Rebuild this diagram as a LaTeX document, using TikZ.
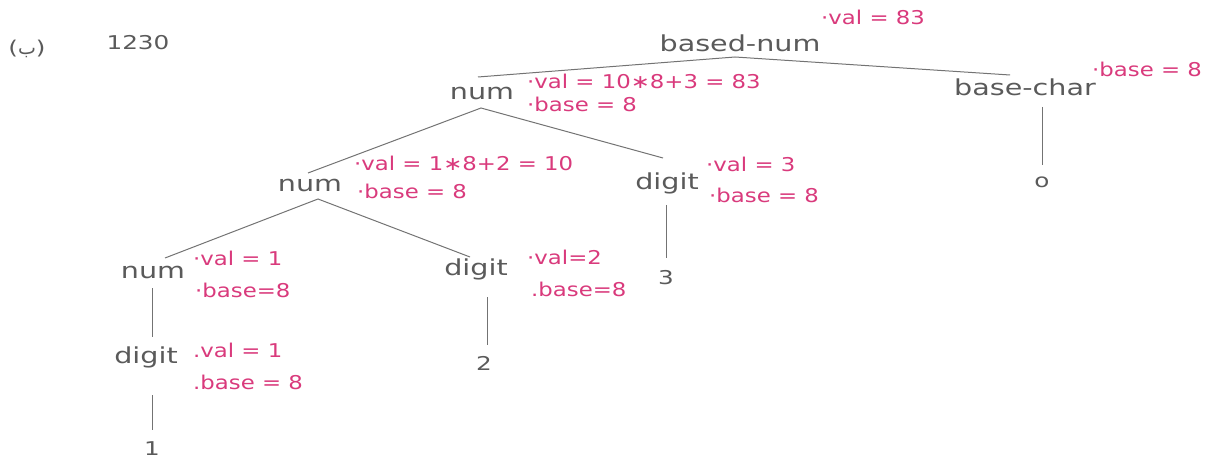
\documentclass[tikz,border=0pt]{standalone}
\usepackage{fontspec}
\newfontfamily\labfont[FakeStretch=1.3]{DejaVu Sans}
\newfontfamily\annfont[FakeStretch=1.2]{DejaVu Sans}
\newfontfamily\arabicfont[Script=Arabic]{DejaVu Sans}
\definecolor{ink}{HTML}{5A5A5A}
\definecolor{attrpink}{HTML}{D93A7C}
\begin{document}
\begin{tikzpicture}[x=1pt,y=-1pt,
  lab/.style={font=\labfont\fontsize{22}{22}\selectfont, text=ink, inner sep=0pt, anchor=base},
  leaf/.style={font=\labfont\fontsize{19}{19}\selectfont, text=ink, inner sep=0pt, anchor=base},
  attrtext/.style={font=\annfont\fontsize{19}{19}\selectfont, text=attrpink, inner sep=0pt, anchor=base west},
  branch/.style={draw=ink!85, line width=1pt}]
\useasboundingbox (0,0) rectangle (1214,462);

% heading
\node[leaf] (tag) at (27,55) {(\arabicfont ب\labfont)};
\node[leaf] (input) at (138,50) {1230};

% parse tree nodes
\node[lab] (bn) at (740,52) {based-num};
\node[lab] (n1) at (482,100) {num};
\node[lab] (bc) at (1025,96) {base-char};
\node[leaf] (o) at (1042,188) {o};
\node[lab] (n2) at (310,192) {num};
\node[lab] (d1) at (667,190) {digit};
\node[leaf] (three) at (666,284) {3};
\node[lab] (n3) at (153,278) {num};
\node[lab] (d2) at (476,275) {digit};
\node[leaf] (two) at (484,370) {2};
\node[lab] (d3) at (146,363) {digit};
\node[leaf] (one) at (152,455) {1};

% attribute annotations
\node[attrtext] (bnv) at (821,25) {·val = 83};
\node[attrtext] (n1v) at (527,89) {·val = 10∗8+3 = 83};
\node[attrtext] (n1b) at (527,112) {·base = 8};
\node[attrtext] (bcb) at (1092,77) {·base = 8};
\node[attrtext] (n2v) at (354,171) {·val = 1∗8+2 = 10};
\node[attrtext] (n2b) at (357,199) {·base = 8};
\node[attrtext] (d1v) at (706,172) {·val = 3};
\node[attrtext] (d1b) at (709,203) {·base = 8};
\node[attrtext] (n3v) at (193,265) {·val = 1};
\node[attrtext] (n3b) at (195,297) {·base=8};
\node[attrtext] (d2v) at (527,264) {·val=2};
\node[attrtext] (d2b) at (531,296) {.base=8};
\node[attrtext] (d3v) at (193,357) {.val = 1};
\node[attrtext] (d3b) at (193,389) {.base = 8};

% branches
\draw[branch] ([shift={(-4pt,23pt)}]n1.base) -- ([shift={(-5pt,-5pt)}]bn.base)
              -- ([shift={(-15pt,21pt)}]bc.base);
\draw[branch] ([shift={(-2pt,19pt)}]n2.base) -- ([shift={(-1pt,-8pt)}]n1.base)
              -- ([shift={(-4pt,32pt)}]d1.base);
\draw[branch] ([shift={(12pt,20pt)}]n3.base) -- ([shift={(8pt,-7pt)}]n2.base)
              -- ([shift={(-6pt,18pt)}]d2.base);
\draw[branch] ([shift={(17pt,-11pt)}]bc.base) -- ([shift={(0pt,23pt)}]o.base);
\draw[branch] ([shift={(-1pt,-15pt)}]d1.base) -- ([shift={(0pt,26pt)}]three.base);
\draw[branch] ([shift={(-1pt,-10pt)}]n3.base) -- ([shift={(6pt,26pt)}]d3.base);
\draw[branch] ([shift={(6pt,-32pt)}]d3.base) -- ([shift={(0pt,25pt)}]one.base);
\draw[branch] ([shift={(11pt,-22pt)}]d2.base) -- ([shift={(3pt,25pt)}]two.base);
\end{tikzpicture}
\end{document}
